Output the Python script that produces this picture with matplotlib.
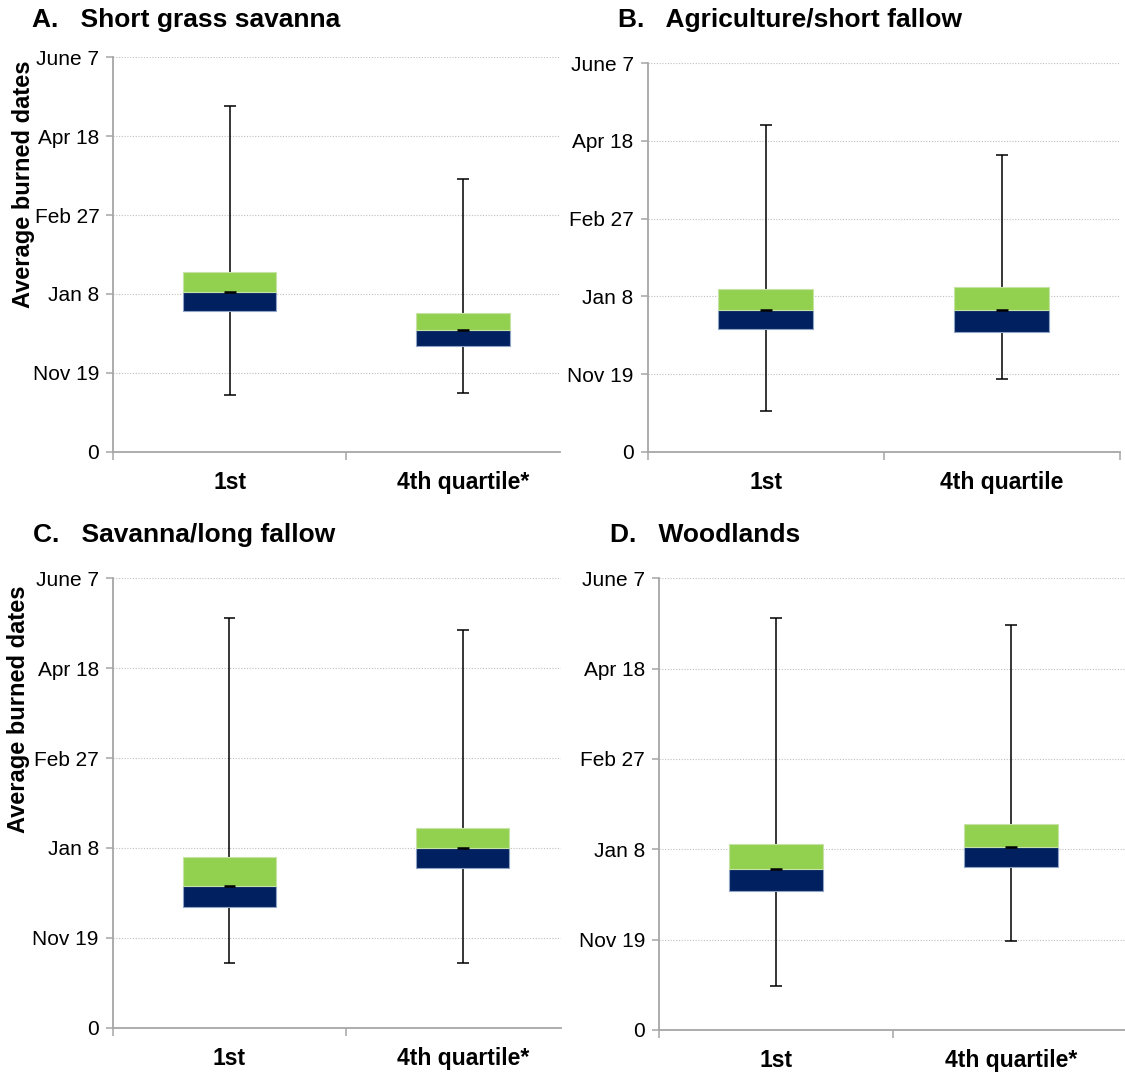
import matplotlib
matplotlib.use("Agg")
import matplotlib.pyplot as plt

plt.rcParams['font.family'] = ['Liberation Sans', 'DejaVu Sans']

# Day offsets on a 50-day grid, labelled with calendar dates
y_ticks = [0, 50, 100, 150, 200, 250]
y_tick_labels = ['0', 'Nov 19', 'Jan 8', 'Feb 27', 'Apr 18', 'June 7']

panel_titles = ['A.   Short grass savanna', 'B.   Agriculture/short fallow',
                'C.   Savanna/long fallow', 'D.   Woodlands']
category_labels = [['1st', '4th quartile*'], ['1st', '4th quartile'],
                   ['1st', '4th quartile*'], ['1st', '4th quartile*']]

# Per panel: [1st quartile group, 4th quartile group]
whisker_low = [[36, 37], [26, 47], [36, 36], [24, 49]]
box_low = [[89, 67], [79, 77], [67, 89], [77, 90]]
median = [[101, 77], [91, 91], [79, 100], [89, 101]]
box_high = [[114, 88], [105, 106], [95, 111], [103, 114]]
whisker_high = [[219, 173], [210, 191], [228, 221], [228, 224]]

NAVY = '#002060'
GREEN = '#92D050'
AXIS_GREY = '#A6A6A6'

W, H = 1125, 1075
fig = plt.figure(figsize=(W / 100, H / 100), dpi=100)

# Axes frames in pixels: left, right, top, bottom, right x-limit, boundary ticks
frames = [
    (113.2, 560.0, 57.3, 451.7, 1.416, [-0.5, 0.5]),
    (647.6, 1119.6, 63.3, 451.7, 1.5, [-0.5, 0.5, 1.5]),
    (112.7, 561.0, 578.3, 1027.7, 1.421, [-0.5, 0.5]),
    (658.9, 1125.0, 578.3, 1029.8, 1.487, [-0.5, 0.5]),
]
title_pos = [(32, 20), (618, 20), (33, 535), (610, 535)]
ylabel_pos = [(24, 184), None, (18.5, 709), None]

box_w = 0.40
cap_w = 0.05

for i, (l, r, t, b, xr, bounds) in enumerate(frames):
    ax = fig.add_axes([l / W, 1 - b / H, (r - l) / W, (b - t) / H])
    x = [0, 1]
    for j in x:
        ax.vlines(j, whisker_low[i][j], whisker_high[i][j], color='black',
                  lw=1.1, zorder=2)
        for v in (whisker_low[i][j], whisker_high[i][j]):
            ax.hlines(v, j - cap_w / 2, j + cap_w / 2, color='black', lw=1.1,
                      zorder=2)
    ax.bar(x, [median[i][j] - box_low[i][j] for j in x], width=box_w,
           bottom=box_low[i], color=NAVY, edgecolor='#8FA3C4', linewidth=0.8,
           zorder=3)
    ax.bar(x, [box_high[i][j] - median[i][j] for j in x], width=box_w,
           bottom=median[i], color=GREEN, edgecolor='#C6E3A4', linewidth=0.8,
           zorder=3)
    for j in x:
        ax.hlines(median[i][j], j - cap_w / 2, j + cap_w / 2, color='black',
                  lw=1.8, zorder=4)

    ax.set_ylim(0, 250)
    ax.set_xlim(-0.5, xr)
    ax.set_yticks(y_ticks)
    ax.set_yticklabels(y_tick_labels, fontsize=15)
    for yv in y_ticks[1:]:
        ax.axhline(yv, color='#BFBFBF', lw=0.8, ls=(0, (1, 1.5)), zorder=1)
    ax.set_xticks(x)
    ax.set_xticklabels(category_labels[i], fontsize=16.5, fontweight='bold')
    ax.set_xticks(bounds, minor=True)
    ax.tick_params(axis='x', which='major', length=0, pad=14)
    ax.tick_params(axis='x', which='minor', length=6, width=1.1,
                   color=AXIS_GREY)
    ax.tick_params(axis='y', length=5, width=1.1, color=AXIS_GREY, pad=5)
    for s in ('top', 'right'):
        ax.spines[s].set_visible(False)
    for s in ('left', 'bottom'):
        ax.spines[s].set_color(AXIS_GREY)
        ax.spines[s].set_linewidth(1.3)
    ax.set_facecolor('none')

    tx, ty = title_pos[i]
    fig.text(tx / W, 1 - ty / H, panel_titles[i], fontsize=19,
             fontweight='bold', ha='left', va='center')
    if ylabel_pos[i] is not None:
        lx, ly = ylabel_pos[i]
        fig.text(lx / W, 1 - ly / H, 'Average burned dates', fontsize=17,
                 fontweight='bold', rotation=90, ha='center', va='center')

fig.savefig('out.png', dpi=100, facecolor='white')
